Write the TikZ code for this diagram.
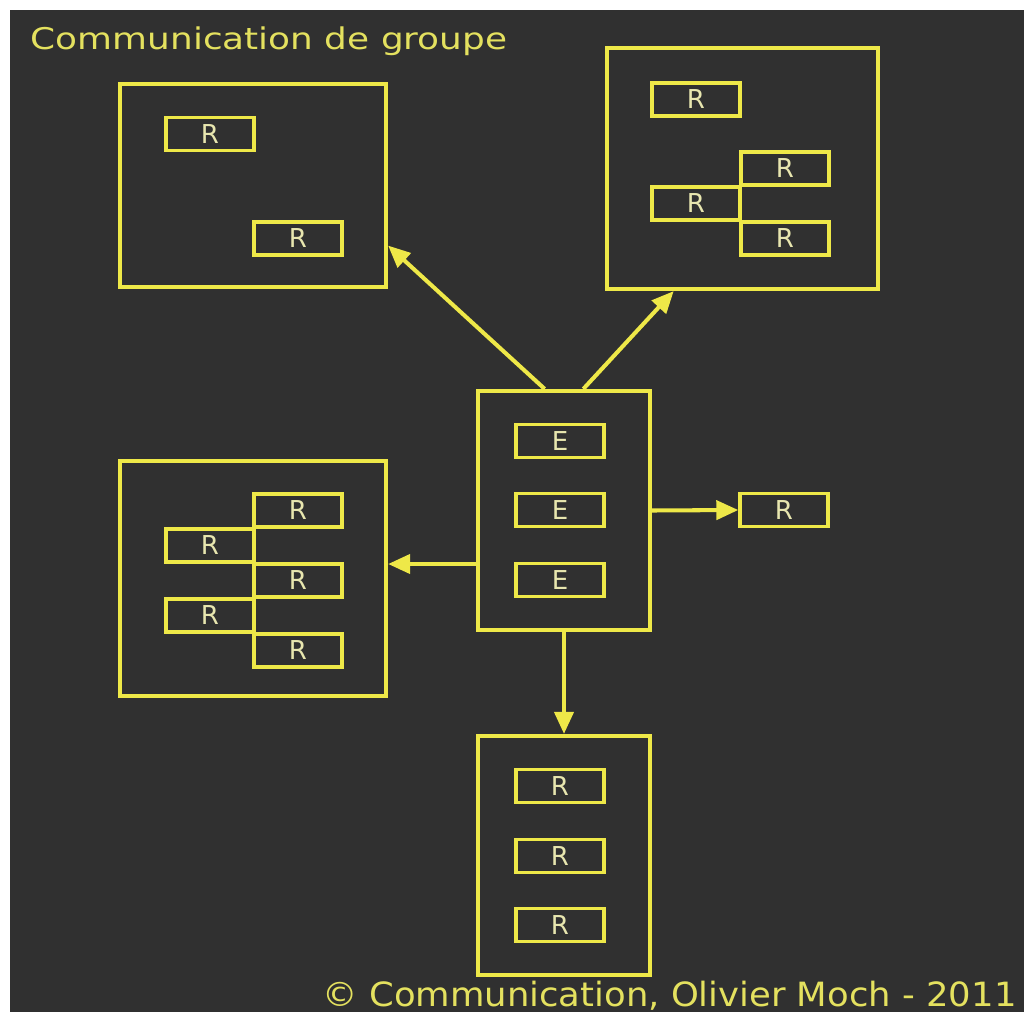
\documentclass[tikz,border=0pt]{standalone}
\usepackage{graphicx}
\usepackage{fontspec}
\setmainfont{DejaVu Sans}
\usetikzlibrary{arrows.meta,calc,positioning}
\definecolor{fond}{RGB}{48,48,48}
\definecolor{jaune}{RGB}{238,232,72}
\definecolor{pale}{RGB}{232,230,175}
\definecolor{titre}{RGB}{228,225,95}

\begin{document}
\begin{tikzpicture}[x=0.01cm, y=-0.01cm,
  grp/.style={draw=jaune, line width=1.15pt, inner sep=0pt},
  rb/.style={draw=jaune, line width=0.95pt, inner sep=0pt, minimum width=0.88cm, minimum height=0.33cm,
             text=pale, font=\fontsize{7.4pt}{8pt}\selectfont},
  fl/.style={draw=jaune, line width=1.15pt, -{Triangle[length=0.22cm,width=0.19cm]}},
  txt/.style={anchor=base west, inner sep=0pt, text=titre}]
\fill[fond] (10,10) rectangle (1024,1012);
\useasboundingbox (0,0) rectangle (1024,1012);
\node[txt, font=\fontsize{8.5pt}{9pt}\selectfont] (t) at (30,50) {\scalebox{1.2}[1]{Communication de groupe}};
\node[txt, font=\fontsize{9.5pt}{10pt}\selectfont] (c) at (322,1006) {\scalebox{1.06}[1]{© Communication, Olivier Moch - 2011}};
\node[grp, minimum width=2.66cm, minimum height=2.03cm] (g1) at (253,185.5) {};
\node[grp, minimum width=2.71cm, minimum height=2.41cm] (g2) at (742.5,168.5) {};
\node[grp, minimum width=2.66cm, minimum height=2.35cm] (g3) at (253,578.5) {};
\node[grp, minimum width=1.72cm, minimum height=2.39cm] (em) at (564,510.5) {};
\node[grp, minimum width=1.72cm, minimum height=2.39cm] (g4) at (564,855.5) {};
\node[rb] (a1) at (210,134) {R};
\node[rb] (a2) at (298,238.5) {R};
\node[rb] (b1) at (696,99.5) {R};
\node[rb] (b2) at (785,168.5) {R};
\node[rb] (b3) at (696,203.5) {R};
\node[rb] (b4) at (785,238.5) {R};
\node[rb] (c1) at (298,510.5) {R};
\node[rb] (c2) at (210,545.5) {R};
\node[rb] (c3) at (298,580.5) {R};
\node[rb] (c4) at (210,615.5) {R};
\node[rb] (c5) at (298,650.5) {R};
\node[rb] (e1) at (560,441) {E};
\node[rb] (e2) at (560,510) {E};
\node[rb] (e3) at (560,580) {E};
\node[rb] (r0) at (784,510) {R};
\node[rb] (d1) at (560,786) {R};
\node[rb] (d2) at (560,856) {R};
\node[rb] (d3) at (560,925) {R};
\draw[fl] ($(em.north west)!0.39!(em.north east)$) -- ($(g1.north east)!0.79!(g1.south east)$);
\draw[fl] ($(em.north west)!0.61!(em.north east)$) -- ($(g2.south west)!0.25!(g2.south east)$);
\draw[fl] (em.east) -- (r0.west);
\draw[fl] ($(em.north west)!0.72!(em.south west)$) coordinate (w) -- (w -| g3.east);
\draw[fl] (em.south) -- (g4.north);
\end{tikzpicture}
\end{document}
